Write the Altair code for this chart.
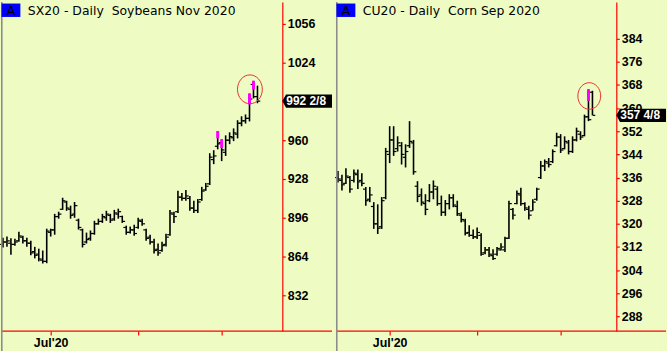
import altair as alt
import pandas as pd

# ---------------- data ----------------
soy_title = "SX20 - Daily\u00a0 Soybeans Nov 2020"
soy_high = [879.5, 880.5, 879, 878.75, 884.5, 881.25, 879.5, 877, 872, 870.5, 869, 887, 887, 899.25, 901, 912.5,
            910, 906, 909, 895.25, 887, 883.75, 885.5, 893.5, 895.25, 899.25, 901.75, 899.25, 902.5, 903.5, 897.75,
            889.5, 888.75, 890.25, 896, 895.25, 887, 882, 878.75, 874.75, 876.25, 882.75, 902.5, 901, 918.25, 916.5,
            919, 914, 910, 911.5, 921.5, 924.75, 949.25, 951.75, 967.5, 960.75, 964, 966.5, 969.75, 976.5, 979.75,
            981.25, 998.5, 1009, 1005]
soy_low = [871.5, 872, 865.5, 873, 876.25, 874.75, 872, 865, 862.5, 860, 858.25, 858.5, 880.5, 882, 895.25, 902.5,
           901.75, 895.25, 896, 886.25, 871.5, 874.75, 877, 882, 890.25, 891.75, 893.5, 891.75, 893.5, 895.25, 891.75,
           882, 883, 881.25, 887, 889.5, 877, 874, 866.5, 864.75, 868, 872.25, 881.25, 891.75, 900, 910, 910, 901.75,
           900, 900, 910, 918.25, 923, 940.25, 952.5, 942.75, 947, 956.75, 959.25, 961.5, 971.5, 973.75, 975.5,
           994.5, 990.5]
soy_open = [874, 876, 875, 874, 877, 880, 877, 875, 868, 866, 861, 860, 884, 886, 897, 903, 909, 903, 899, 894, 886,
            876, 879, 883, 891, 893, 896, 898, 895, 899, 897, 888, 884, 886, 888, 893, 886, 880, 876, 870, 869, 874,
            882, 899, 901, 913, 912, 912, 904, 902, 911, 919, 924, 944, 955, 958, 950, 960, 962, 965, 974, 976, 978,
            1006, 996]
soy_close = [876, 877, 874, 876, 881, 877, 875, 867, 865, 862, 860, 885, 886, 897, 899, 910, 904, 898, 906, 888, 874,
             878, 883, 891, 893, 897, 899, 894, 900, 901, 893, 884, 886, 883, 894, 891, 879, 876, 869, 867, 873, 880,
             900, 897, 913, 912, 914, 904, 902, 909, 918, 922, 946, 947, 957, 952, 960, 963, 966, 974, 976, 978, 994,
             996, 992.25]
soy_mag_idx = [54, 55, 62, 63]
soy_mag_hi = [967.5, 960.75, 998.5, 1009]
soy_mag_lo = [961.5, 953.5, 989.5, 1001.75]
soy_ring_idx = [62.1]
soy_ring_price = [1002]
soy_last_label = "992 2/8"
soy_y_ticks = [832, 864, 896, 928, 960, 992, 1024, 1056]
soy_hidden_tick = 992
soy_x_ticks = [12, 34, 55]

corn_title = "CU20 - Daily\u00a0 Corn Sep 2020"
corn_high = [338.25, 337, 339.25, 336.5, 338.75, 338.75, 337.5, 332.75, 332.75, 327.5, 326.75, 329.25, 346.25, 353.75,
             353.75, 350.25, 348.25, 347.5, 355.5, 349, 334.75, 332.25, 330.25, 333.75, 335, 333, 329.75, 328.25,
             330.25, 330.25, 328, 324, 321.75, 319.5, 318, 318.75, 316.75, 312, 312, 311.25, 312, 313.25, 315.5, 328,
             325.5, 331.5, 332.5, 327.5, 326.25, 328.5, 332.5, 341.75, 342.25, 342.75, 345.75, 351.5, 351, 350.25, 349,
             350.25, 353.25, 352, 357.75, 366.5, 366]
corn_low = [334.25, 331.5, 333.75, 330.75, 334.25, 332, 333, 326.25, 327.5, 318.25, 316.5, 318.25, 328.5, 341, 343.5,
            345, 340.5, 339.5, 346.25, 337, 327.5, 326.25, 323, 327.5, 328.5, 326.25, 322.75, 322.75, 325, 325.75,
            322.75, 320.5, 316, 315.5, 314.75, 314.75, 309, 309.5, 308.5, 307.5, 309, 310.75, 310.25, 314.75, 321.5,
            326.75, 326.25, 324.5, 321.5, 324.5, 328, 335.5, 338.25, 339.5, 341, 346.75, 344.5, 345.75, 344, 344.5,
            348.5, 349, 350.25, 355.5, 357.5]
corn_open = [336, 335, 334, 336, 335, 337, 335, 332, 328.5, 326, 320, 319, 329, 344, 349, 346, 347, 343, 347, 348, 333,
             330, 327, 328, 331, 332, 327, 324, 327, 329, 326, 323, 321, 317, 316, 315.5, 316, 310, 311, 309, 309.5,
             311, 311, 315, 325, 327, 330, 327, 325, 324.5, 328.5, 336, 340, 341, 341.5, 347, 350, 346, 348, 345, 349,
             351, 350.5, 357, 365.5]
corn_close = [335.5, 333.5, 336.5, 332, 337.5, 334.5, 334, 328, 330, 320, 318.5, 328, 345, 349, 345, 348, 344, 345,
              348.5, 338, 329.5, 327.5, 325, 331, 333, 327, 324, 327, 329, 326.5, 323.5, 321.5, 316.75, 316, 315.5,
              317, 309.5, 311, 309.5, 308, 311.5, 312, 315, 327, 323, 330.5, 327, 325.5, 323, 327.5, 332, 340, 341.5,
              340.5, 345, 350, 345.5, 348.5, 345, 349, 352, 350, 357, 356, 357.5]
corn_mag_idx = [63]
corn_mag_hi = [366.5]
corn_mag_lo = [362.5]
corn_ring_idx = [63.2]
corn_ring_price = [364.2]
corn_last_label = "357 4/8"
corn_y_ticks = [288, 296, 304, 312, 320, 328, 336, 344, 352, 360, 368, 376, 384]
corn_hidden_tick = -1
corn_x_ticks = [13, 35, 56]

x_label = "Jul'20"

# ---------------- style ----------------
BG = "#EEFCC4"
RED = "#FF0000"
MAG = "#FF00FF"
FONT = "Liberation Sans"
TFONT = "DejaVu Sans"
PLOT_H = 331
AXIS_W = 50

BOX_PATH = "M-1,0 L-0.85,-0.27 L1,-0.27 L1,0.27 L-0.85,0.27 Z"
RING_PATH = ("M1,0 C1,0.6407 0.5523,1.16 0,1.16 C-0.5523,1.16 -1,0.6407 -1,0 "
             "C-1,-0.6407 -0.5523,-1.16 0,-1.16 C0.5523,-1.16 1,-0.6407 1,0 Z")


def make_panel(title, high, low, opn, cls, mag_idx, mag_hi, mag_lo, ring_idx, ring_price,
               last_label, y_domain, y_ticks, hidden_tick, x_ticks, plot_w, ring_size):
    n = len(high)
    df = pd.DataFrame({"i": list(range(n)), "high": high, "low": low, "open": opn, "close": cls})
    mag = pd.DataFrame({"i": mag_idx, "hi": mag_hi, "lo": mag_lo})
    ring = pd.DataFrame({"i": ring_idx, "p": ring_price})
    last = pd.DataFrame({"p": [cls[-1]], "label": [last_label]})

    xs = alt.Scale(domain=[-0.5, plot_w / 4 - 0.5], nice=False, zero=False)
    ys = alt.Scale(domain=y_domain, nice=False, zero=False)
    xaxis = alt.Axis(values=x_ticks, title=None, grid=False, domain=False,
                     labelExpr=f'datum.value == {x_ticks[0]} ? "{x_label}" : ""',
                     tickColor=RED, tickSize=4, tickWidth=1.2, labelPadding=2,
                     labelFont=FONT, labelFontSize=12.5, labelFontWeight="bold", labelColor="black",
                     labelFlush=False, labelOverlap=False, minExtent=20, maxExtent=20)
    yaxis = alt.Axis(values=y_ticks, orient="right", title=None, grid=False, format="d",
                     labelExpr=f'datum.value == {hidden_tick} ? "" : datum.label',
                     domainColor=RED, domainWidth=1.2, tickColor=RED, tickSize=3, tickWidth=1.2,
                     labelPadding=2, labelFont=FONT, labelFontSize=12.5, labelFontWeight="bold",
                     labelColor="black", labelOverlap=False, labelFlush=False,
                     minExtent=AXIS_W, maxExtent=AXIS_W)
    xe = alt.X("i:Q", scale=xs, axis=xaxis)

    bars = alt.Chart(df).mark_rule(color="black", strokeWidth=1.6).encode(
        x=xe, y=alt.Y("low:Q", scale=ys, axis=yaxis), y2="high:Q")
    opens = alt.Chart(df).mark_tick(orient="horizontal", color="black", size=2.5, thickness=1.2,
                                    xOffset=-1.6, opacity=1).encode(
        x=xe, y=alt.Y("open:Q", scale=ys, axis=yaxis))
    closes = alt.Chart(df).mark_tick(orient="horizontal", color="black", size=2.5, thickness=1.2,
                                     xOffset=1.6, opacity=1).encode(
        x=xe, y=alt.Y("close:Q", scale=ys, axis=yaxis))
    mags = alt.Chart(mag).mark_rule(color=MAG, strokeWidth=3).encode(
        x=xe, y=alt.Y("lo:Q", scale=ys, axis=yaxis), y2="hi:Q")
    rings = alt.Chart(ring).mark_point(shape=RING_PATH, size=ring_size, filled=False, color="#E8312F",
                                       strokeWidth=1, opacity=1).encode(
        x=xe, y=alt.Y("p:Q", scale=ys, axis=yaxis))
    box = alt.Chart(last).mark_point(shape=BOX_PATH, size=2500, filled=True, color="black",
                                     strokeWidth=0, opacity=1).encode(
        x=alt.value(plot_w + 25), y=alt.Y("p:Q", scale=ys, axis=yaxis))
    box_text = alt.Chart(last).mark_text(align="left", baseline="middle", color="white", font=FONT,
                                         fontSize=12, fontWeight="bold").encode(
        x=alt.value(plot_w + 4), y=alt.Y("p:Q", scale=ys, axis=yaxis), text="label:N")

    bottom = alt.Chart(last).mark_rule(color=RED, strokeWidth=1.2).encode(
        x=alt.value(0), x2=alt.value(plot_w + AXIS_W), y=alt.value(PLOT_H))
    border = alt.Chart(last).mark_rule(color="#8C8C8C", strokeWidth=1.6).encode(
        x=alt.value(0.8), y=alt.value(0), y2=alt.value(PLOT_H + 20))
    abox = alt.Chart(last).mark_rect(color="#0000FF").encode(
        x=alt.value(0.5), x2=alt.value(19.5), y=alt.value(1.5), y2=alt.value(15))
    atext = alt.Chart(last).mark_text(text="A", align="center", baseline="alphabetic", font=TFONT,
                                      fontSize=13, color="black").encode(
        x=alt.value(10), y=alt.value(13))
    ttext = alt.Chart(last).mark_text(text=title, align="left", baseline="alphabetic", font=TFONT,
                                      fontSize=12.5, color="black").encode(
        x=alt.value(27), y=alt.value(13))

    return alt.layer(bars, opens, closes, mags, rings, bottom, border, box, box_text,
                     abox, atext, ttext).properties(width=plot_w, height=PLOT_H)


left = make_panel(soy_title, soy_high, soy_low, soy_open, soy_close, soy_mag_idx, soy_mag_hi, soy_mag_lo,
                  soy_ring_idx, soy_ring_price, soy_last_label, [802.5, 1074.0], soy_y_ticks, soy_hidden_tick,
                  soy_x_ticks, 283, 625)
right = make_panel(corn_title, corn_high, corn_low, corn_open, corn_close, corn_mag_idx, corn_mag_hi, corn_mag_lo,
                   corn_ring_idx, corn_ring_price, corn_last_label, [282.93, 396.67], corn_y_ticks,
                   corn_hidden_tick, corn_x_ticks, 282, 529)

chart = alt.hconcat(left, right, spacing=2).properties(
    padding=0, background=BG
).configure_view(stroke=None)

chart.save("out.html", embed_options={"renderer": "svg", "actions": False})
